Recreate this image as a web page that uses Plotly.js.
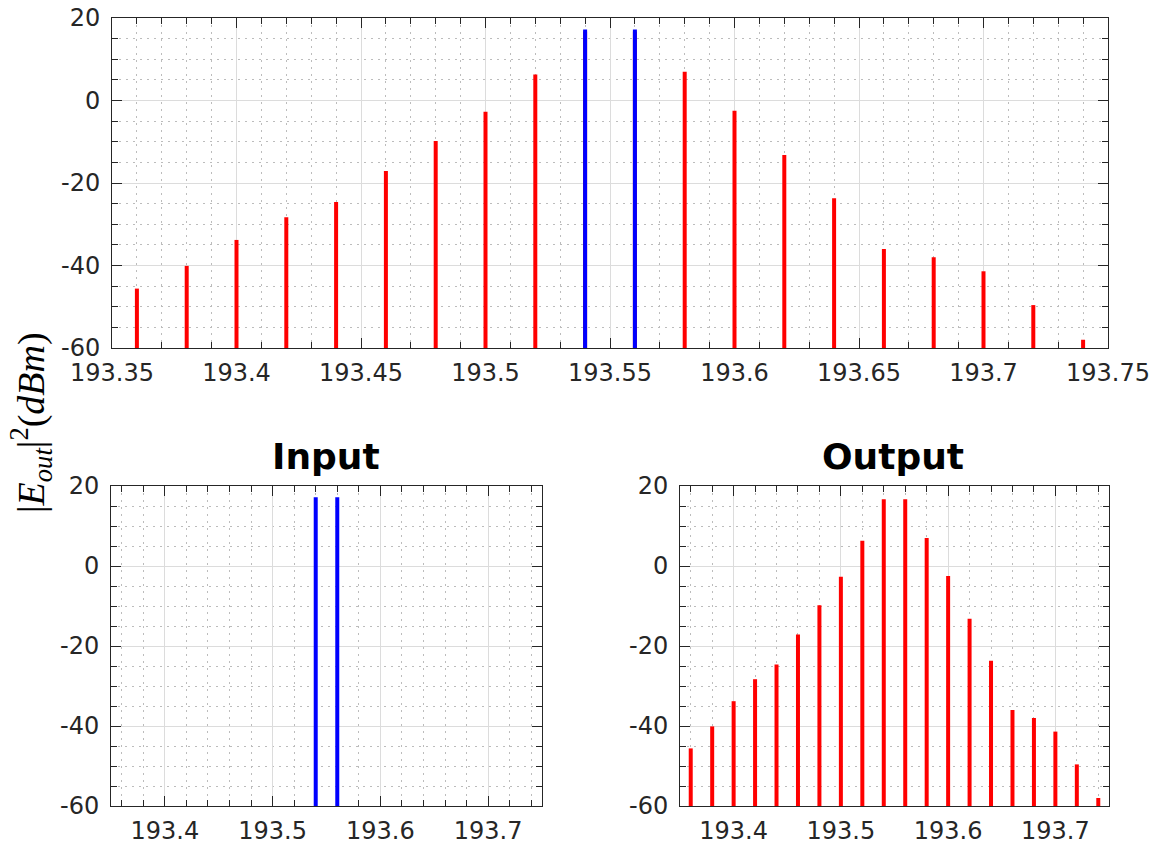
<!DOCTYPE html>
<html>
<head>
<meta charset="utf-8">
<script src="https://cdn.plot.ly/plotly-3.0.1.min.js"></script>
<style>
  html, body { margin: 0; padding: 0; background: #fff; }
  #chart { width: 1166px; height: 848px; }
</style>
</head>
<body>
<div id="chart"></div>
<script>
// Comb frequencies (THz)
const freqs = [193.36, 193.38, 193.40, 193.42, 193.44, 193.46, 193.48, 193.50, 193.52, 193.54,
               193.56, 193.58, 193.60, 193.62, 193.64, 193.66, 193.68, 193.70, 193.72, 193.74];
// Output spectrum power (dBm)
const outputPower = [-45.6, -40.1, -33.8, -28.3, -24.6, -17.1, -9.8, -2.7, 6.3, 16.7,
                     16.7, 7.0, -2.5, -13.2, -23.7, -36.0, -38.0, -41.4, -49.6, -58.0];
// Input pump lines
const inputFreqs = [193.54, 193.56];
const inputPower = [17.2, 17.2];

// Axis ticks
const yTickVals = [-60, -40, -20, 0, 20];
const yTickText = ['-60', '-40', '-20', '0', '20'];
const topXTickVals = [193.35, 193.40, 193.45, 193.50, 193.55, 193.60, 193.65, 193.70, 193.75];
const topXTickText = ['193.35', '193.4', '193.45', '193.5', '193.55', '193.6', '193.65', '193.7', '193.75'];
const botXTickVals = [193.4, 193.5, 193.6, 193.7];
const botXTickText = ['193.4', '193.5', '193.6', '193.7'];

const X_RANGE = [193.35, 193.75];
const Y_RANGE = [-60, 20];
const BASE = Y_RANGE[0];

// Build vertical stems from the floor of the axis up to each value
function stems(xs, ys) {
  const sx = [], sy = [];
  xs.forEach((x, i) => { sx.push(x, x, null); sy.push(BASE, ys[i], null); });
  return { x: sx, y: sy };
}

const RED = '#ff0000', BLUE = '#0000ff';
const LW = 4;

function stemTrace(xs, ys, color, xa, ya) {
  const s = stems(xs, ys);
  return { x: s.x, y: s.y, xaxis: xa, yaxis: ya, type: 'scatter', mode: 'lines',
           line: { color: color, width: LW }, hoverinfo: 'skip', showlegend: false };
}

const traces = [
  stemTrace(freqs, outputPower, RED, 'x', 'y'),
  stemTrace(inputFreqs, inputPower, BLUE, 'x', 'y'),
  stemTrace(inputFreqs, inputPower, BLUE, 'x2', 'y2'),
  stemTrace(freqs, outputPower, RED, 'x3', 'y3')
];

const AX = '#262626';
const tickFont = { family: 'DejaVu Sans, sans-serif', size: 24, color: AX };
const MINOR_GRID = { gridcolor: '#bcbcbc', griddash: '2px,5px', gridwidth: 1 };

function xAxis(domain, anchor, vals, text, minorDtick, minorTick0) {
  return {
    domain: domain, anchor: anchor, range: X_RANGE,
    tickmode: 'array', tickvals: vals, ticktext: text,
    showline: true, linecolor: AX, linewidth: 1, mirror: 'allticks',
    ticks: 'inside', ticklen: 10, tickcolor: AX, tickwidth: 1,
    showgrid: true, gridcolor: '#dcdcdc', gridwidth: 1, zeroline: false,
    tickfont: tickFont, ticklabelstandoff: 3, layer: 'below traces',
    minor: Object.assign({ tickmode: 'linear', tick0: minorTick0, dtick: minorDtick, ticks: 'inside',
             ticklen: 6, tickcolor: AX, showgrid: true }, MINOR_GRID),
    fixedrange: true
  };
}
function yAxis(domain, anchor) {
  return {
    domain: domain, anchor: anchor, range: Y_RANGE,
    tickmode: 'array', tickvals: yTickVals, ticktext: yTickText,
    showline: true, linecolor: AX, linewidth: 1, mirror: 'allticks',
    ticks: 'inside', ticklen: 10, tickcolor: AX, tickwidth: 1,
    showgrid: true, gridcolor: '#dcdcdc', gridwidth: 1, zeroline: false,
    tickfont: tickFont, ticklabelstandoff: 6, layer: 'below traces',
    minor: Object.assign({ tickmode: 'linear', tick0: -60, dtick: 5, ticks: 'inside', ticklen: 6,
             tickcolor: AX, showgrid: true }, MINOR_GRID),
    fixedrange: true
  };
}

const W = 1166, H = 848;
const px = v => v / W, py = v => 1 - v / H;

const layout = {
  width: W, height: H,
  margin: { l: 0, r: 0, t: 0, b: 0 },
  paper_bgcolor: '#ffffff', plot_bgcolor: '#ffffff',
  showlegend: false,
  xaxis:  xAxis([px(112), px(1108)], 'y',  topXTickVals, topXTickText, 0.01, 193.35),
  yaxis:  yAxis([py(348), py(18)], 'x'),
  xaxis2: xAxis([px(111), px(542)], 'y2', botXTickVals, botXTickText, 0.02, 193.36),
  yaxis2: yAxis([py(806), py(486)], 'x2'),
  xaxis3: xAxis([px(680), px(1109)], 'y3', botXTickVals, botXTickText, 0.02, 193.36),
  yaxis3: yAxis([py(806), py(486)], 'x3'),
  annotations: [
    { text: '<b>Input</b>', xref: 'paper', yref: 'paper', x: px(326), y: py(457),
      xanchor: 'center', yanchor: 'middle', showarrow: false,
      font: { family: 'DejaVu Sans, sans-serif', size: 36, color: '#000' } },
    { text: '<b>Output</b>', xref: 'paper', yref: 'paper', x: px(893), y: py(457),
      xanchor: 'center', yanchor: 'middle', showarrow: false,
      font: { family: 'DejaVu Sans, sans-serif', size: 36, color: '#000' } },
    { text: '|<i>E</i><sub><i>out</i></sub>|<sup>2</sup>(<i>dBm</i>)', xref: 'paper', yref: 'paper',
      x: px(31), y: py(423), xanchor: 'center', yanchor: 'middle', textangle: -90, showarrow: false,
      font: { family: 'Liberation Serif, serif', size: 38, color: '#000' } }
  ]
};

Plotly.newPlot('chart', traces, layout, { staticPlot: true, displayModeBar: false });
</script>
</body>
</html>
